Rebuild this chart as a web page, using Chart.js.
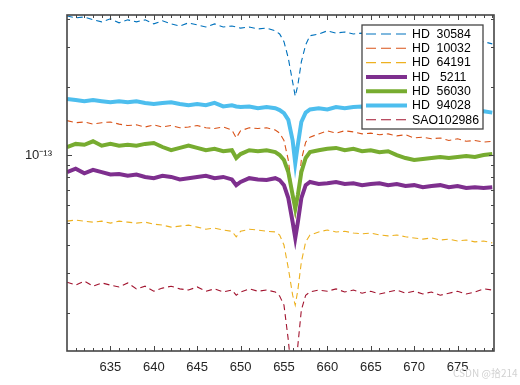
<!DOCTYPE html>
<html>
<head>
<meta charset="utf-8">
<script src="https://cdn.jsdelivr.net/npm/chart.js@4"></script>
<style>
  html, body { margin: 0; padding: 0; background: #fff; }
</style>
</head>
<body>
<canvas id="myChart" width="520" height="385"></canvas>
<script>
// Longitud de onda (nm)
const wavelength = [630, 631, 632, 633, 634, 635, 636, 637, 638, 639, 640, 641, 642, 643, 644, 645, 646, 647, 648, 649,
  649.5, 650, 651, 652, 653, 654, 654.5, 655, 655.5, 656, 656.3, 656.6, 657, 657.5, 658,
  659, 660, 661, 662, 663, 664, 665, 666, 667, 668, 669, 670, 671, 672, 673, 674, 675, 676, 677, 678, 679];

// Flujo de cada estrella, en unidades de 1e-14
const hd30584 = [41.2, 40.4, 40.8, 39.6, 38.8, 40.0, 38.4, 39.6, 38.8, 39.6, 38.0, 39.2, 38.0, 37.2, 38.4, 37.6, 36.8, 38.0, 36.8, 37.2,
  36.8, 36.4, 36.8, 36.1, 36.4, 35.4, 34.3, 31.7, 26.8, 21.0, 18.2, 20.4, 25.8, 30.7, 33.7,
  34.3, 35.4, 34.6, 35.0, 34.3, 34.6, 34.0, 34.3, 33.7, 34.0, 33.3, 33.7, 33.0, 33.3, 32.7, 32.3, 32.7, 32.0, 31.7, 31.7, 31.0];
const hd10032 = [14.2, 13.9, 14.0, 13.7, 13.9, 14.0, 13.7, 13.5, 13.6, 13.3, 13.6, 13.3, 13.5, 13.2, 13.3, 13.5, 13.2, 13.1, 13.3, 12.9,
  11.9, 12.8, 13.2, 13.1, 13.2, 12.9, 12.5, 11.6, 9.5, 6.65, 5.43, 6.65, 9.5, 11.4, 12.0,
  12.4, 12.8, 12.5, 12.8, 12.65, 12.4, 12.5, 12.3, 12.4, 12.15, 12.3, 11.9, 12.0, 11.8, 11.9, 11.6, 11.8, 11.5, 11.6, 11.4, 11.5];
const hd64191 = [5.1, 5.16, 5.1, 5.05, 5.1, 5.0, 5.1, 5.05, 5.0, 5.05, 4.95, 4.9, 4.8, 4.85, 4.9, 4.8, 4.7, 4.75, 4.66, 4.6,
  4.35, 4.6, 4.7, 4.66, 4.6, 4.57, 4.43, 4.0, 3.16, 2.40, 2.17, 2.53, 3.36, 4.13, 4.43,
  4.57, 4.66, 4.57, 4.6, 4.52, 4.48, 4.52, 4.43, 4.39, 4.43, 4.35, 4.3, 4.25, 4.3, 4.21, 4.25, 4.17, 4.21, 4.13, 4.17, 4.09];
const hd5211 = [8.4, 8.7, 8.3, 8.6, 8.4, 8.2, 8.25, 8.1, 8.2, 8.0, 7.9, 8.1, 8.0, 7.8, 7.9, 8.0, 8.1, 7.9, 8.0, 7.8,
  7.36, 7.6, 7.9, 7.8, 7.75, 7.9, 7.75, 7.36, 6.45, 5.05, 4.3, 5.05, 6.45, 7.36, 7.6,
  7.45, 7.5, 7.6, 7.45, 7.5, 7.36, 7.45, 7.5, 7.36, 7.45, 7.3, 7.36, 7.2, 7.3, 7.36, 7.2, 7.3, 7.15, 7.2, 7.15, 7.2];
const hd56030 = [10.85, 11.2, 11.1, 11.5, 11.0, 11.2, 11.0, 11.1, 11.0, 11.2, 11.3, 10.85, 10.5, 10.75, 11.0, 10.75, 10.5, 10.65, 10.4, 10.5,
  9.7, 10.1, 10.5, 10.4, 10.5, 10.3, 10.0, 9.5, 8.4, 6.65, 5.8, 6.65, 8.4, 9.7, 10.3,
  10.5, 10.65, 10.75, 10.5, 10.65, 10.4, 10.5, 10.3, 10.4, 10.0, 9.7, 9.5, 9.6, 9.7, 9.8, 9.7, 9.8, 9.9, 9.8, 10.0, 10.1];
const hd94028 = [17.7, 17.5, 17.3, 17.5, 17.3, 17.1, 17.3, 17.1, 17.3, 17.0, 16.8, 17.0, 17.1, 16.8, 16.6, 16.8, 16.6, 17.0, 16.4, 16.6,
  16.4, 16.3, 16.4, 16.1, 16.3, 16.1, 15.8, 15.3, 14.3, 11.6, 9.2, 11.1, 14.0, 15.4, 15.9,
  16.1, 15.9, 16.3, 16.1, 16.3, 16.4, 16.1, 16.3, 16.1, 15.8, 15.9, 15.6, 15.8, 15.4, 15.6, 15.4, 15.8, 15.6, 15.8, 15.6, 15.4];
const sao102986 = [2.74, 2.66, 2.77, 2.63, 2.72, 2.66, 2.61, 2.72, 2.56, 2.63, 2.5, 2.58, 2.63, 2.56, 2.53, 2.61, 2.5, 2.56, 2.48, 2.53,
  2.40, 2.48, 2.56, 2.5, 2.53, 2.48, 2.38, 2.17, 1.52, 0.96, 1.10, 1.44, 2.06, 2.40, 2.48,
  2.53, 2.5, 2.56, 2.48, 2.53, 2.45, 2.5, 2.43, 2.48, 2.53, 2.45, 2.5, 2.43, 2.48, 2.40, 2.45, 2.5, 2.43, 2.48, 2.56, 2.53];

const seriesNames = ['HD  30584', 'HD  10032', 'HD  64191', 'HD   5211', 'HD  56030', 'HD  94028', 'SAO102986'];
const xTicks = [635, 640, 645, 650, 655, 660, 665, 670, 675];
const yTicks = [1e-13];
const yTickLabels = ['10⁻¹³'];
const yMinorTicks = [2e-14, 3e-14, 4e-14, 5e-14, 6e-14, 7e-14, 8e-14, 9e-14, 2e-13, 3e-13, 4e-13];

// Estilo de cada serie (colores de MATLAB)
const estilos = [
  { color: '#0072BD', dash: [6, 4], width: 1.1 },
  { color: '#D95319', dash: [6, 4], width: 1.1 },
  { color: '#EDB120', dash: [6, 4], width: 1.1 },
  { color: '#7E2F8E', dash: [], width: 4 },
  { color: '#77AC30', dash: [], width: 4 },
  { color: '#4DBEEE', dash: [], width: 4 },
  { color: '#A2142F', dash: [6, 4], width: 1.1 }
];
const flujos = [hd30584, hd10032, hd64191, hd5211, hd56030, hd94028, sao102986];

const datasets = flujos.map((serie, i) => ({
  label: seriesNames[i],
  data: serie.map((v, k) => ({ x: wavelength[k], y: v * 1e-14 })),
  borderColor: estilos[i].color,
  borderWidth: estilos[i].width,
  borderDash: estilos[i].dash,
  pointRadius: 0,
  tension: 0,
  fill: false,
  order: flujos.length - i   // las últimas series quedan encima, como en MATLAB
}));

const fuente = '"Liberation Sans", Arial, sans-serif';

// Marco de los ejes, marcas hacia dentro, leyenda y marca de agua
const marcoPlugin = {
  id: 'marco',
  afterDatasetsDraw(chart) {
    const { ctx, chartArea: a, scales: { x, y } } = chart;
    ctx.save();
    ctx.strokeStyle = '#454545';
    ctx.lineWidth = 1;
    const linea = (x1, y1, x2, y2) => { ctx.beginPath(); ctx.moveTo(x1, y1); ctx.lineTo(x2, y2); ctx.stroke(); };
    for (let v = 631; v <= 679; v++) {
      const px = Math.round(x.getPixelForValue(v)) + 0.5;
      const len = v % 5 === 0 ? 5 : 3;
      linea(px, a.bottom, px, a.bottom - len);
      linea(px, a.top, px, a.top + len);
    }
    yMinorTicks.concat(yTicks).forEach(v => {
      const py = Math.round(y.getPixelForValue(v)) + 0.5;
      const len = yTicks.includes(v) ? 5 : 3;
      linea(a.left, py, a.left + len, py);
      linea(a.right, py, a.right - len, py);
    });
    ctx.lineWidth = 1.6;
    ctx.strokeRect(a.left, a.top, a.right - a.left, a.bottom - a.top);
    ctx.restore();
  },
  afterDraw(chart) {
    const { ctx } = chart;
    ctx.save();
    // Leyenda
    const bx = 362, by = 25, bw = 121, bh = 104;
    ctx.fillStyle = '#fff';
    ctx.fillRect(bx, by, bw, bh);
    ctx.strokeStyle = '#454545';
    ctx.lineWidth = 1.3;
    ctx.strokeRect(bx, by, bw, bh);
    ctx.font = '12.3px ' + fuente;
    ctx.textBaseline = 'middle';
    chart.data.datasets.forEach((ds, i) => {
      const cy = 34 + i * 14.3;
      ctx.strokeStyle = ds.borderColor;
      ctx.lineWidth = ds.borderWidth;
      ctx.setLineDash(ds.borderDash.length ? [10, 5] : []);
      ctx.beginPath();
      ctx.moveTo(366, cy);
      ctx.lineTo(407, cy);
      ctx.stroke();
      ctx.setLineDash([]);
      ctx.fillStyle = '#000';
      ctx.fillText(ds.label, 412, cy + 0.5);
    });
    // Marca de agua
    ctx.font = '10px "Noto Sans CJK SC", sans-serif';
    ctx.fillStyle = '#d2d2d2';
    ctx.textBaseline = 'alphabetic';
    ctx.fillText('CSDN @拾214', 453, 377);
    ctx.restore();
  }
};

new Chart(document.getElementById('myChart'), {
  type: 'line',
  data: { datasets },
  options: {
    responsive: false,
    animation: false,
    devicePixelRatio: 1,
    layout: { padding: { top: 15, right: 26, left: 0, bottom: 0 } },
    plugins: { legend: { display: false }, tooltip: { enabled: false } },
    scales: {
      x: {
        type: 'linear',
        min: 630,
        max: 679.2,
        grid: { display: false },
        border: { display: false },
        ticks: { font: { family: fuente, size: 13 }, color: '#262626', padding: 1, maxRotation: 0 },
        afterBuildTicks: scale => { scale.ticks = xTicks.map(v => ({ value: v })); },
        afterFit: scale => { scale.height = 34; }
      },
      y: {
        type: 'logarithmic',
        min: 1.36e-14,
        max: 4.16e-13,
        grid: { display: false },
        border: { display: false },
        ticks: {
          font: { family: fuente, size: 13 },
          color: '#262626',
          padding: 7,
          callback: v => {
            const k = yTicks.findIndex(t => Math.abs(t - v) / t < 1e-6);
            return k >= 0 ? yTickLabels[k] : '';
          }
        },
        afterBuildTicks: scale => { scale.ticks = yTicks.map(v => ({ value: v })); },
        afterFit: scale => { scale.width = 67; }
      }
    }
  },
  plugins: [marcoPlugin]
});
</script>
</body>
</html>
